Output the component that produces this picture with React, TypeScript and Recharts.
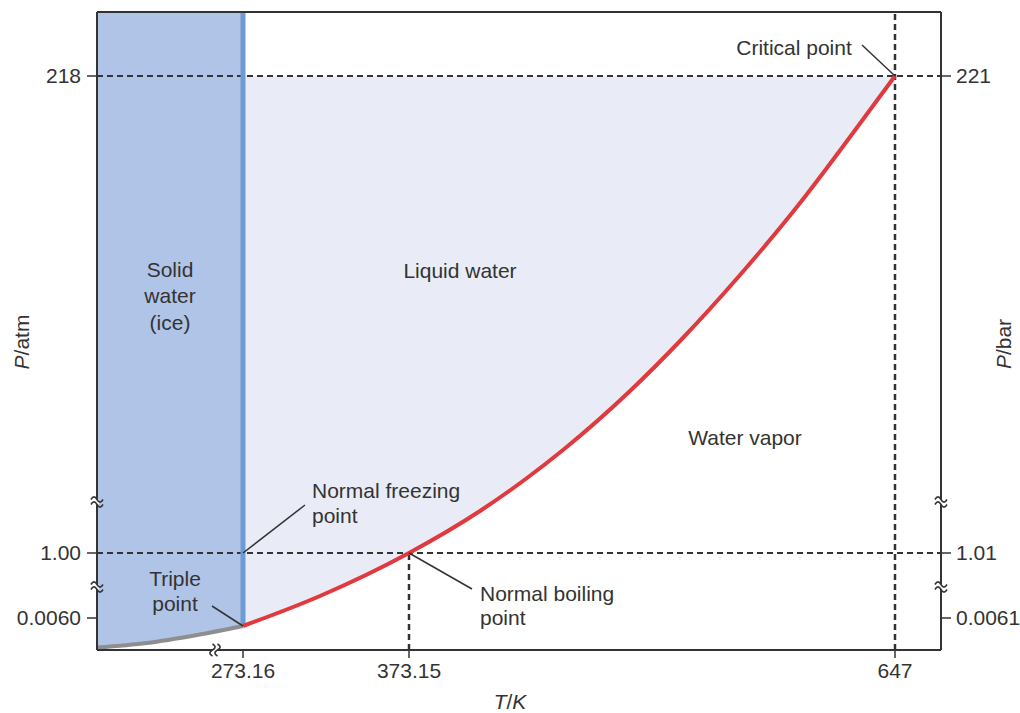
import React from 'react';
import { ComposedChart, XAxis, YAxis, Area, Line, ReferenceLine, ReferenceDot } from 'recharts';

// Schematic (broken-axis) display coordinates: x 0..844, y 0..638
const X_MAX = 844;
const Y_MAX = 638;

const xTickPos = [146, 312, 798];
const xTickLabels = ['273.16', '373.15', '647'];
const yTickPos = [32, 97, 574];
const atmTickLabels = ['0.0060', '1.00', '218'];
const barTickLabels = ['0.0061', '1.01', '221'];

// solid / vapor boundary (sublimation)
const sublimationCurve = [
  { x: 0, y: 2.5 },
  { x: 50, y: 7 },
  { x: 100, y: 15 },
  { x: 146, y: 24 },
];

// liquid / vapor boundary (vaporization)
const vaporCurve = [
  { x: 146, y: 24 },
  { x: 223, y: 54 },
  { x: 312, y: 97 },
  { x: 383, y: 139 },
  { x: 430, y: 172 },
  { x: 466, y: 200 },
  { x: 533, y: 259 },
  { x: 583, y: 309 },
  { x: 643, y: 375 },
  { x: 703, y: 447 },
  { x: 753, y: 513 },
  { x: 798, y: 574 },
];

const triplePoint = { x: 146, y: 24 };
const freezingPoint = { x: 146, y: 97 };
const boilingPoint = { x: 312, y: 97 };
const criticalPoint = { x: 798, y: 574 };

const iceArea = sublimationCurve.map((p) => ({ x: p.x, range: [p.y, Y_MAX] }));
const liquidArea = vaporCurve.map((p) => ({ x: p.x, range: [p.y, criticalPoint.y] }));

const FONT = '"Liberation Sans", Arial, Helvetica, sans-serif';
const INK = '#333333';
const FS = 21;

type Note = { x: number; y: number; lines: string[]; anchor: 'start' | 'middle' | 'end'; lh: number };
const notes: Note[] = [
  { x: 697, y: 603, lines: ['Critical point'], anchor: 'middle', lh: 26 },
  { x: 73, y: 381, lines: ['Solid', 'water', '(ice)'], anchor: 'middle', lh: 26.5 },
  { x: 363, y: 380, lines: ['Liquid water'], anchor: 'middle', lh: 26 },
  { x: 648, y: 213, lines: ['Water vapor'], anchor: 'middle', lh: 26 },
  { x: 215, y: 160, lines: ['Normal freezing', 'point'], anchor: 'start', lh: 25 },
  { x: 383, y: 57, lines: ['Normal boiling', 'point'], anchor: 'start', lh: 24.5 },
  { x: 78, y: 72, lines: ['Triple', 'point'], anchor: 'middle', lh: 25 },
];

const leaders = [
  [{ x: 765, y: 605 }, criticalPoint],
  [{ x: 208, y: 145 }, freezingPoint],
  [boilingPoint, { x: 375, y: 61 }],
  [{ x: 115, y: 44 }, triplePoint],
];

const breaks = [
  { x: 0, y: 148, rot: 0 },
  { x: 0, y: 63, rot: 0 },
  { x: X_MAX, y: 148, rot: 0 },
  { x: X_MAX, y: 63, rot: 0 },
  { x: 118, y: 0, rot: 90 },
];

const noteShape = (n: Note) => (props: any) => {
  const { cx, cy } = props;
  return (
    <g>
      {n.lines.map((t, i) => (
        <text
          key={i}
          x={cx}
          y={cy + i * n.lh}
          textAnchor={n.anchor}
          dominantBaseline="central"
          fontFamily={FONT}
          fontSize={FS}
          fill={INK}
        >
          {t}
        </text>
      ))}
    </g>
  );
};

const breakShape = (rot: number) => (props: any) => {
  const { cx, cy } = props;
  const tilde = (dy: number) => `M${cx - 6},${cy + dy} c2,-3.5 4,-3.5 6,0 s4,3.5 6,0`;
  return (
    <g transform={`rotate(${rot} ${cx} ${cy})`}>
      <rect x={cx - 2} y={cy - 2.5} width={4} height={5} fill="#ffffff" />
      <path d={tilde(-2.5)} fill="none" stroke={INK} strokeWidth={1.6} />
      <path d={tilde(2.5)} fill="none" stroke={INK} strokeWidth={1.6} />
    </g>
  );
};

const atmTitle = (props: any) => {
  const vb = props.viewBox || { x: 0, y: 12, width: 97, height: 638 };
  const x = vb.x + 21;
  const y = vb.y + vb.height / 2 + 11;
  return (
    <text x={x} y={y} transform={`rotate(-90 ${x} ${y})`} textAnchor="middle" dominantBaseline="central" fontFamily={FONT} fontSize={FS} fill={INK}>
      <tspan fontStyle="italic">P</tspan>/atm
    </text>
  );
};

const barTitle = (props: any) => {
  const vb = props.viewBox || { x: 941, y: 12, width: 79, height: 638 };
  const x = vb.x + 62;
  const y = vb.y + vb.height / 2 + 13;
  return (
    <text x={x} y={y} transform={`rotate(-90 ${x} ${y})`} textAnchor="middle" dominantBaseline="central" fontFamily={FONT} fontSize={FS} fill={INK}>
      <tspan fontStyle="italic">P</tspan>/bar
    </text>
  );
};

const tTitle = (props: any) => {
  const vb = props.viewBox || { x: 97, y: 650, width: 844, height: 63 };
  const x = vb.x + 413;
  const y = vb.y + 51;
  return (
    <text x={x} y={y} textAnchor="middle" dominantBaseline="central" fontFamily={FONT} fontSize={FS} fill={INK}>
      <tspan fontStyle="italic">T</tspan>/<tspan fontStyle="italic">K</tspan>
    </text>
  );
};

const tickStyle = { fill: INK, fontSize: FS, fontFamily: FONT };
const dash = { stroke: INK, strokeWidth: 2, strokeDasharray: '6 4' };

export default function App() {
  return (
    <div style={{ position: 'absolute', left: 0, top: 0, width: 1020, height: 713, background: '#ffffff' }}>
      <ComposedChart width={1020} height={713} margin={{ top: 12, right: 0, bottom: 0, left: 0 }}>
        <XAxis
          type="number"
          dataKey="x"
          domain={[0, X_MAX]}
          allowDataOverflow
          ticks={xTickPos}
          interval={0}
          tickFormatter={(v: number) => xTickLabels[xTickPos.indexOf(v)] ?? ''}
          height={63}
          tickSize={8}
          tickMargin={5}
          tick={tickStyle}
          axisLine={{ stroke: INK, strokeWidth: 2 }}
          tickLine={{ stroke: INK, strokeWidth: 1.5 }}
          label={tTitle}
        />
        <YAxis
          yAxisId="left"
          type="number"
          domain={[0, Y_MAX]}
          allowDataOverflow
          ticks={yTickPos}
          interval={0}
          tickFormatter={(v: number) => atmTickLabels[yTickPos.indexOf(v)] ?? ''}
          width={97}
          tickSize={10}
          tickMargin={6}
          tick={tickStyle}
          axisLine={{ stroke: INK, strokeWidth: 2 }}
          tickLine={{ stroke: INK, strokeWidth: 1.5 }}
          label={atmTitle}
        />
        <YAxis
          yAxisId="right"
          orientation="right"
          type="number"
          domain={[0, Y_MAX]}
          allowDataOverflow
          ticks={yTickPos}
          interval={0}
          tickFormatter={(v: number) => barTickLabels[yTickPos.indexOf(v)] ?? ''}
          width={79}
          tickSize={10}
          tickMargin={5}
          tick={tickStyle}
          axisLine={{ stroke: INK, strokeWidth: 2 }}
          tickLine={{ stroke: INK, strokeWidth: 1.5 }}
          label={barTitle}
        />

        <Area yAxisId="left" data={iceArea} dataKey="range" type="monotone" fill="#b0c4e7" fillOpacity={1} stroke="none" isAnimationActive={false} />
        <Area yAxisId="left" data={liquidArea} dataKey="range" type="monotone" fill="#e9ecf6" fillOpacity={1} stroke="none" isAnimationActive={false} />

        <ReferenceLine yAxisId="left" y={criticalPoint.y} {...dash} />
        <ReferenceLine yAxisId="left" y={freezingPoint.y} {...dash} />
        <ReferenceLine yAxisId="left" x={criticalPoint.x} stroke={INK} strokeWidth={2.5} strokeDasharray="6 4" />
        <ReferenceLine yAxisId="left" segment={[{ x: boilingPoint.x, y: 0 }, boilingPoint]} stroke={INK} strokeWidth={2.5} strokeDasharray="6 4" />

        <ReferenceLine yAxisId="left" segment={[triplePoint, { x: triplePoint.x, y: Y_MAX }]} stroke="#6f9ad4" strokeWidth={5} />
        <Line yAxisId="left" data={sublimationCurve} dataKey="y" type="monotone" stroke="#8e8e8e" strokeWidth={4} dot={false} isAnimationActive={false} />
        <Line yAxisId="left" data={vaporCurve} dataKey="y" type="monotone" stroke="#e0393e" strokeWidth={4} dot={false} isAnimationActive={false} />

        <ReferenceLine yAxisId="left" y={Y_MAX} stroke={INK} strokeWidth={2} />

        {leaders.map((s, i) => (
          <ReferenceLine key={'l' + i} yAxisId="left" segment={s as any} stroke={INK} strokeWidth={1.5} />
        ))}
        {notes.map((n, i) => (
          <ReferenceDot key={'n' + i} yAxisId="left" x={n.x} y={n.y} r={0} shape={noteShape(n)} />
        ))}
        {breaks.map((b, i) => (
          <ReferenceDot key={'b' + i} yAxisId="left" x={b.x} y={b.y} r={0} shape={breakShape(b.rot)} />
        ))}
      </ComposedChart>
    </div>
  );
}
